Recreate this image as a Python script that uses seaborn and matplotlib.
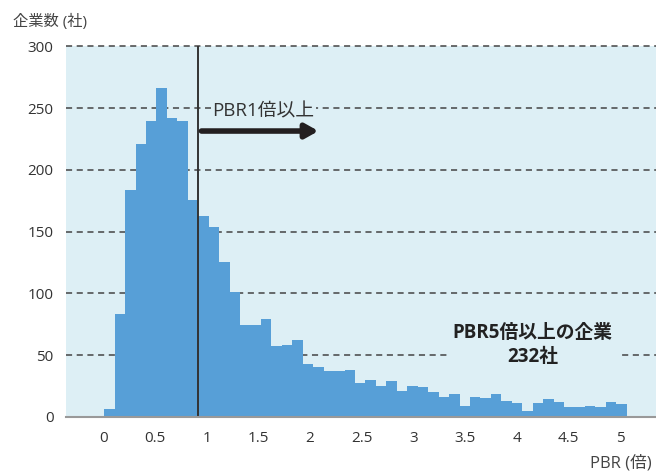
import numpy as np
import pandas as pd
import matplotlib
matplotlib.use("Agg")
import matplotlib.pyplot as plt
import seaborn as sns

# PBR bins of 0.1 (left edge), counts
pbr_left = [round(i * 0.1, 1) for i in range(50)]
counts = [6, 83, 184, 221, 240, 266, 242, 240, 176, 163,
          154, 125, 101, 74, 74, 79, 57, 58, 62, 43,
          40, 37, 37, 38, 27, 30, 25, 29, 21, 25,
          24, 20, 16, 18, 9, 16, 15, 18, 13, 11,
          5, 11, 14, 12, 8, 8, 9, 8, 12, 10]
x_ticks = [0, 0.5, 1, 1.5, 2, 2.5, 3, 3.5, 4, 4.5, 5]
x_ticklabels = ["0", "0.5", "1", "1.5", "2", "2.5", "3", "3.5", "4", "4.5", "5"]
y_ticks = [0, 50, 100, 150, 200, 250, 300]

sns.set_style("white")
plt.rcParams['font.family'] = ['Open Sans', 'Noto Sans CJK JP', 'DejaVu Sans']

bg = "#ddeff5"
bar_col = "#579fd7"
txt = "#333333"

df = pd.DataFrame({"pbr": [p + 0.05 for p in pbr_left], "n": counts})

fig = plt.figure(figsize=(6.56, 4.73), dpi=100)
ax = fig.add_axes([66/656, 1 - 416.7/473, 590/656, (416.7 - 46.5)/473])
ax.set_facecolor(bg)

sns.histplot(data=df, x="pbr", weights="n", binwidth=0.1, binrange=(0, 5),
             color=bar_col, alpha=1, linewidth=0, ax=ax, zorder=2)

ax.set_xlim(-0.366, 5.28)
ax.set_ylim(0, 300)

for yv in y_ticks[1:]:
    ax.axhline(yv, color="#444444", lw=1.1, ls=(0, (4, 3)), zorder=1, clip_on=False)

# line at PBR 1
ax.axvline(0.9, color="#333333", lw=1.4, zorder=3)

ax.annotate("", xy=(2.05, 231.5), xytext=(0.93, 231.5),
            arrowprops=dict(arrowstyle="-|>,head_length=0.75,head_width=0.42",
                            lw=4, color="#231f20", shrinkA=0, shrinkB=0),
            zorder=4)

ax.text(1.525, 247.6, "PBR1倍以上", ha="center", va="center", fontsize=13.5,
        color=txt, zorder=4,
        bbox=dict(boxstyle="square,pad=0.1", fc=bg, ec="none"))
ax.text(4.10, 58, "PBR5倍以上の企業\n232社", ha="center", va="center", fontsize=13.5,
        fontweight="bold", color="#222222", linespacing=1.25, zorder=4,
        bbox=dict(boxstyle="square,pad=0.3", fc=bg, ec="none"))

# tick labels sit slightly inside the bar scale in the original
ax.set_xticks([v * 0.99 - 0.01 for v in x_ticks])
ax.set_xticklabels(x_ticklabels)
ax.set_yticks(y_ticks)
ax.tick_params(length=0, labelsize=11, colors=txt)
ax.tick_params(axis="y", pad=9)
ax.tick_params(axis="x", pad=10)
ax.set_xlabel("")
ax.set_ylabel("")

for s in ["top", "right", "left"]:
    ax.spines[s].set_visible(False)
ax.spines["bottom"].set_color("#999999")
ax.spines["bottom"].set_linewidth(1.5)
ax.spines["bottom"].set_zorder(5)

fig.text(13/656, 1 - 22/473, "企業数 (社)", ha="left", va="center", fontsize=11, color="#444444")
fig.text(652/656, 1 - 463/473, "PBR (倍)", ha="right", va="center", fontsize=12, color="#444444")

fig.savefig("out.png", dpi=100)
